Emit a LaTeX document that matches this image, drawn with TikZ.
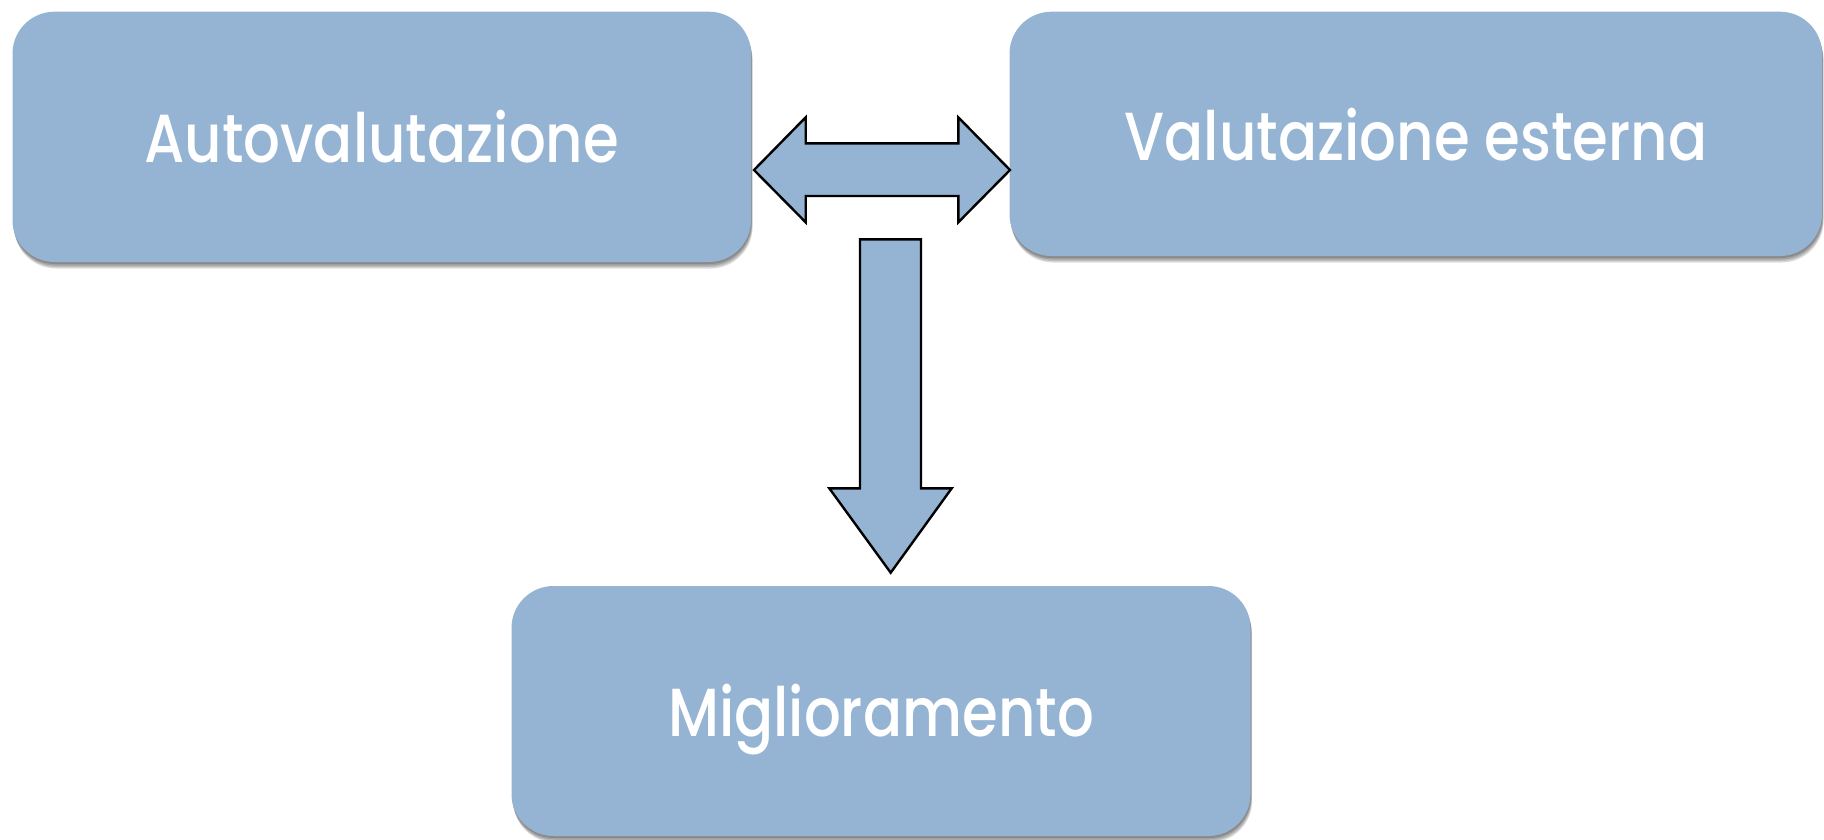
\documentclass[tikz,border=0pt]{standalone}
\usepackage{fontspec}
\setmainfont{Poppins Medium}[FakeStretch=0.85]
\usetikzlibrary{calc}
\definecolor{boxblue}{RGB}{149,180,211}
\tikzset{
  box/.style={draw=none, fill=boxblue, rounded corners=42pt},
  boxshadow/.style={fill=black, opacity=0.14, rounded corners=42pt},
  lbl/.style={text=white, font=\fontsize{68}{80}\selectfont, anchor=base, inner sep=0pt},
  blockarrow/.style={fill=boxblue, draw=black, line width=2.4pt, line join=miter}
}
\newcommand{\softshadow}[2]{%
  \foreach \d in {0,1.5,3,4.5}{%
    \path[boxshadow] ($(#1)+(0.5+\d*0.25,2+\d)$) rectangle ($(#2)+(0.5+\d*0.25,2+\d)$);
  }%
}
\begin{document}
\begin{tikzpicture}[x=1pt,y=-1pt]
\useasboundingbox (0,0) rectangle (1824,839);
% boxes with soft shadows
\coordinate (a1) at (12.5,11.7);   \coordinate (a2) at (751,262);
\coordinate (b1) at (1009.5,11.7); \coordinate (b2) at (1822,256);
\coordinate (c1) at (511.5,586);   \coordinate (c2) at (1250.5,836);
\softshadow{a1}{a2}
\softshadow{b1}{b2}
\softshadow{c1}{c2}
\path[box] (a1) rectangle (a2);
\path[box] (b1) rectangle (b2);
\path[box] (c1) rectangle (c2);
\node[lbl] (autov) at (381.75,162.7) {Autovalutazione};
\node[lbl] (vest) at (1416,160) {Valutazione esterna};
\node[lbl] (migl) at (881,736.7) {Miglioramento};
% double arrow
\draw[blockarrow] (754,170) -- (805.7,117.3) -- (805.7,143.3) -- (958.3,143.3) -- (958.3,117.3)
  -- (1010,170) -- (958.3,222.3) -- (958.3,196) -- (805.7,196) -- (805.7,222.3) -- cycle;
% down arrow
\draw[blockarrow] (860,239.3) -- (921,239.3) -- (921,488.3) -- (951.7,488.3) -- (890.7,572.7)
  -- (829.3,488.3) -- (860,488.3) -- cycle;
\end{tikzpicture}
\end{document}
